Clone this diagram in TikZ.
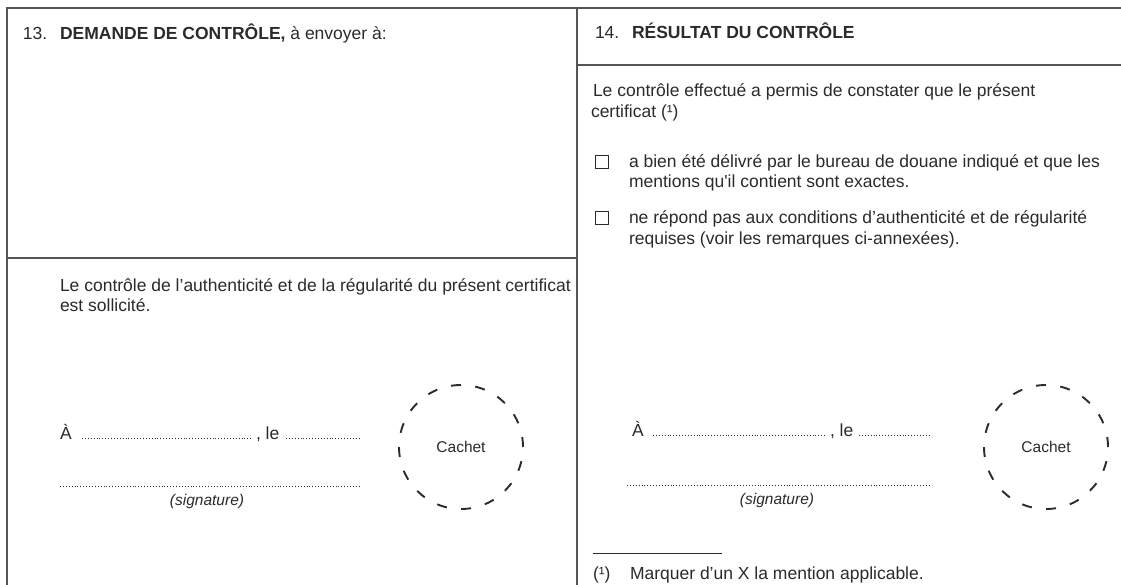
\documentclass[tikz,border=0pt]{standalone}
\usepackage{fontspec}
\setmainfont{Liberation Sans}
\usepackage{textcomp}
\definecolor{ink}{HTML}{2B2B2B}
\definecolor{rule}{HTML}{555555}
\begin{document}
\begin{tikzpicture}[x=1pt,y=-1pt,
  txt/.style={anchor=base west,inner sep=0pt,outer sep=0pt,text=ink,font=\fontsize{17.5}{20}\selectfont},
  ctxt/.style={anchor=base,inner sep=0pt,text=ink,font=\fontsize{15.5}{18}\selectfont},
  frame/.style={draw=rule,line width=1.3pt},
  leader/.style={draw=ink,line width=0.9pt,dash pattern=on 0.9pt off 2pt},
  stamp/.style={draw=ink,line width=1.9pt,dash pattern=on 10pt off 14.35pt},
  cbox/.style={draw=ink,line width=1pt,minimum size=12.5pt,inner sep=0pt},
  fnrule/.style={draw=ink,line width=1pt}]
\useasboundingbox (0,0) rectangle (1121,585);
\fill[white] (0,0) rectangle (1121,585);
% frame
\coordinate (tl) at (7,8);
\coordinate (tr) at (1121,8);
\coordinate (bl) at (7,585);
\coordinate (dt) at (577,8);
\coordinate (db) at (577,585);
\coordinate (lm) at (7,258);
\coordinate (rm) at (577,258);
\coordinate (hl) at (577,65);
\coordinate (hr) at (1121,65);
\draw[frame] (bl) -- (tl) -- (tr);
\draw[frame] (dt) -- (db);
\draw[frame] (lm) -- (rm);
\draw[frame] (hl) -- (hr);
% headers
\node[txt] (n13) at (23,40) {13.};
\node[txt] (h13) at (60,40) {\textbf{DEMANDE DE CONTRÔLE,} à envoyer à:};
\node[txt] (n14) at (595,39) {14.};
\node[txt] (h14) at (632,39) {\textbf{RÉSULTAT DU CONTRÔLE}};
% left body
\node[txt] (l1) at (60,291) {Le contrôle de l’authenticité et de la régularité du présent certificat};
\node[txt] (l2) at (60,311) {est sollicité.};
\node[txt] (la) at (60,439) {À};
\coordinate (la1) at (82,438);
\coordinate (la2) at (253,438);
\draw[leader] (la1) -- (la2);
\node[txt] (lle) at (256,439) {, le};
\coordinate (lb1) at (286,438);
\coordinate (lb2) at (360,438);
\draw[leader] (lb1) -- (lb2);
\coordinate (ls1) at (60,486);
\coordinate (ls2) at (360,486);
\draw[leader] (ls1) -- (ls2);
\node[ctxt] (lsig) at (207,505) {\itshape (signature)};
\node[circle,stamp,minimum size=124pt,inner sep=0pt] (lc) at (461,447) {};
\node[ctxt] (lcach) at (461,452) {Cachet};
% right body
\node[txt] (r1) at (593,97) {Le contrôle effectué a permis de constater que le présent};
\node[txt] (r2) at (591,118) {certificat (¹)};
\node[cbox] (b1) at (602,162) {};
\node[txt] (r3) at (629,168) {a bien été délivré par le bureau de douane indiqué et que les};
\node[txt] (r4) at (629,188) {mentions qu\textquotesingle il contient sont exactes.};
\node[cbox] (b2) at (602,218) {};
\node[txt] (r5) at (629,224) {ne répond pas aux conditions d’authenticité et de régularité};
\node[txt] (r6) at (629,245) {requises (voir les remarques ci-annexées).};
\node[txt] (ra) at (632,436) {À};
\coordinate (ra1) at (653,435);
\coordinate (ra2) at (827,435);
\draw[leader] (ra1) -- (ra2);
\node[txt] (rle) at (830,436) {, le};
\coordinate (rb1) at (859,435);
\coordinate (rb2) at (930,435);
\draw[leader] (rb1) -- (rb2);
\coordinate (rs1) at (627,485);
\coordinate (rs2) at (930,485);
\draw[leader] (rs1) -- (rs2);
\node[ctxt] (rsig) at (777,504) {\itshape (signature)};
\node[circle,stamp,minimum size=124pt,inner sep=0pt] (rc) at (1046,447) {};
\node[ctxt] (rcach) at (1046,452) {Cachet};
% footnote
\coordinate (f1) at (593,553);
\coordinate (f2) at (722,553);
\draw[fnrule] (f1) -- (f2);
\node[txt] (fn) at (593,579) {(¹)};
\node[txt] (fnt) at (630,579) {Marquer d’un X la mention applicable.};
\end{tikzpicture}
\end{document}
